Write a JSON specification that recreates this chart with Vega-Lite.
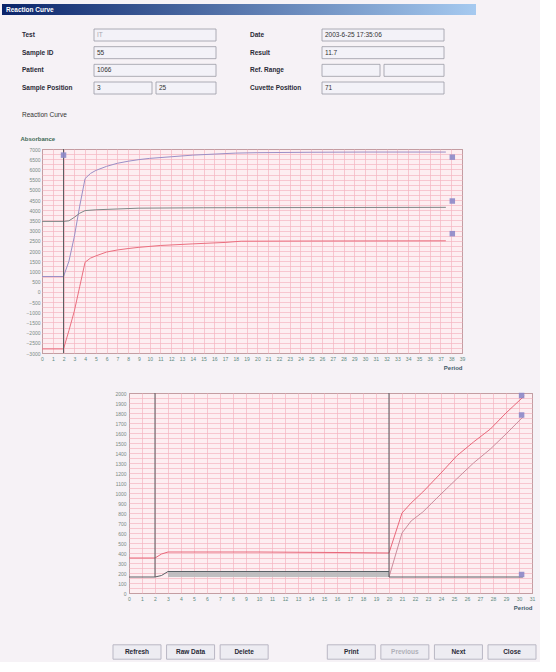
{
  "$schema": "https://vega.github.io/schema/vega-lite/v6.json",
  "background": "#f6f2f6",
  "padding": {"left": 2, "top": 4, "right": 0, "bottom": 0},
  "spacing": 0,
  "resolve": {"scale": {"color": "independent", "fill": "independent"}},
  "config": {
    "view": {"stroke": null},
    "font": "Liberation Sans",
    "axis": {"labelFont": "Liberation Sans", "titleFont": "Liberation Sans"}
  },
  "vconcat": [
    {
      "width": 474,
      "height": 11,
      "view": {"stroke": null, "fill": {"gradient": "linear", "x1": 0, "y1": 0, "x2": 1, "y2": 0, "stops": [{"offset": 0, "color": "#0a246a"}, {"offset": 1, "color": "#a6caf0"}]}},
      "data": {"values": [{"name": "Reaction Curve"}]},
      "mark": {"type": "text", "align": "left", "baseline": "middle", "color": "white", "fontSize": 6.5, "fontWeight": "bold"},
      "encoding": {
        "text": {"field": "name"},
        "x": {"field": "name", "type": "nominal", "scale": {"type": "point", "range": [4, 4], "padding": 0}, "axis": null}
      }
    },
    {
      "width": 474,
      "height": 119,
      "layer": [
        {
          "data": {"values": [
            {"side": "left", "row": 1, "label": "Test", "value": "IT", "split": false, "enabled": false},
            {"side": "left", "row": 2, "label": "Sample ID", "value": "55", "split": false, "enabled": true},
            {"side": "left", "row": 3, "label": "Patient", "value": "1066", "split": false, "enabled": true},
            {"side": "left", "row": 4, "label": "Sample Position", "value": "3", "value2": "25", "split": true, "enabled": true},
            {"side": "right", "row": 1, "label": "Date", "value": "2003-6-25 17:35:06", "split": false, "enabled": true},
            {"side": "right", "row": 2, "label": "Result", "value": "11.7", "split": false, "enabled": true},
            {"side": "right", "row": 3, "label": "Ref. Range", "value": "", "split": true, "enabled": true},
            {"side": "right", "row": 4, "label": "Cuvette Position", "value": "71", "split": false, "enabled": true}
          ]},
          "encoding": {
            "x": {"field": "side", "type": "nominal", "scale": {"type": "point", "domain": ["left", "right"], "range": [20, 248], "padding": 0}, "axis": null},
            "y": {"field": "row", "type": "ordinal", "scale": {"type": "point", "range": [20, 73], "padding": 0}, "axis": null}
          },
          "layer": [
            {"transform": [{"filter": "!datum.split"}], "mark": {"type": "rect", "xOffset": 72, "x2Offset": 194, "yOffset": -6, "y2Offset": 6, "fill": "#f3f2f8", "stroke": "#9a9aa4", "strokeWidth": 0.8}, "encoding": {"x2": {"field": "side"}, "y2": {"field": "row"}}},
            {"transform": [{"filter": "datum.split"}], "mark": {"type": "rect", "xOffset": 72, "x2Offset": 130, "yOffset": -6, "y2Offset": 6, "fill": "#f3f2f8", "stroke": "#9a9aa4", "strokeWidth": 0.8}, "encoding": {"x2": {"field": "side"}, "y2": {"field": "row"}}},
            {"transform": [{"filter": "datum.split"}], "mark": {"type": "rect", "xOffset": 134, "x2Offset": 194, "yOffset": -6, "y2Offset": 6, "fill": "#f3f2f8", "stroke": "#9a9aa4", "strokeWidth": 0.8}, "encoding": {"x2": {"field": "side"}, "y2": {"field": "row"}}},
            {"mark": {"type": "text", "align": "left", "fontSize": 6.5, "fontWeight": "bold", "color": "#2a2a36"}, "encoding": {"text": {"field": "label"}}},
            {"mark": {"type": "text", "align": "left", "dx": 75, "fontSize": 6.5}, "encoding": {"text": {"field": "value"}, "color": {"field": "enabled", "type": "nominal", "scale": {"domain": [true, false], "range": ["#333333", "#a8a8b0"]}, "legend": null}}},
            {"transform": [{"filter": "isValid(datum.value2)"}], "mark": {"type": "text", "align": "left", "dx": 137, "fontSize": 6.5, "color": "#333333"}, "encoding": {"text": {"field": "value2"}}}
          ]
        },
        {
          "data": {"values": [{"caption": "Reaction Curve"}]},
          "mark": {"type": "text", "align": "left", "fontSize": 6.5, "color": "#333333"},
          "encoding": {
            "text": {"field": "caption"},
            "x": {"field": "caption", "type": "nominal", "scale": {"type": "point", "range": [20, 20], "padding": 0}, "axis": null},
            "y": {"field": "caption", "type": "nominal", "scale": {"type": "point", "range": [100, 100], "padding": 0}, "axis": null}
          }
        }
      ],
      "resolve": {"scale": {"x": "independent", "y": "independent"}}
    },
    {
      "hconcat": [
        {"width": 40, "height": 1, "data": {"values": []}, "mark": "point"},
        {
          "width": 420,
          "height": 204,
          "view": {"fill": "#fdeef1", "stroke": "#56665c", "strokeWidth": 1},
          "layer": [
            {
              "data": {"values": [
                {"s": "A", "period": 0, "abs": 750}, {"s": "A", "period": 2, "abs": 750}, {"s": "A", "period": 2.5, "abs": 1500}, {"s": "A", "period": 3, "abs": 2700}, {"s": "A", "period": 3.5, "abs": 4200}, {"s": "A", "period": 4, "abs": 5550}, {"s": "A", "period": 4.5, "abs": 5800}, {"s": "A", "period": 5, "abs": 5950}, {"s": "A", "period": 6, "abs": 6150}, {"s": "A", "period": 7, "abs": 6300}, {"s": "A", "period": 8, "abs": 6400}, {"s": "A", "period": 9, "abs": 6480}, {"s": "A", "period": 10, "abs": 6540}, {"s": "A", "period": 12, "abs": 6620}, {"s": "A", "period": 14, "abs": 6700}, {"s": "A", "period": 16, "abs": 6750}, {"s": "A", "period": 18, "abs": 6800}, {"s": "A", "period": 20, "abs": 6820}, {"s": "A", "period": 25, "abs": 6840}, {"s": "A", "period": 30, "abs": 6850}, {"s": "A", "period": 37.5, "abs": 6850},
                {"s": "B", "period": 0, "abs": 3450}, {"s": "B", "period": 2, "abs": 3450}, {"s": "B", "period": 2.5, "abs": 3480}, {"s": "B", "period": 3, "abs": 3650}, {"s": "B", "period": 3.5, "abs": 3850}, {"s": "B", "period": 4, "abs": 3980}, {"s": "B", "period": 5, "abs": 4020}, {"s": "B", "period": 7, "abs": 4060}, {"s": "B", "period": 9, "abs": 4100}, {"s": "B", "period": 15, "abs": 4120}, {"s": "B", "period": 25, "abs": 4130}, {"s": "B", "period": 37.5, "abs": 4140},
                {"s": "C", "period": 0, "abs": -2800}, {"s": "C", "period": 2, "abs": -2800}, {"s": "C", "period": 2.5, "abs": -1900}, {"s": "C", "period": 3, "abs": -950}, {"s": "C", "period": 3.5, "abs": 250}, {"s": "C", "period": 4, "abs": 1450}, {"s": "C", "period": 4.5, "abs": 1650}, {"s": "C", "period": 5, "abs": 1760}, {"s": "C", "period": 6, "abs": 1950}, {"s": "C", "period": 7, "abs": 2050}, {"s": "C", "period": 8, "abs": 2120}, {"s": "C", "period": 9, "abs": 2180}, {"s": "C", "period": 11, "abs": 2270}, {"s": "C", "period": 14, "abs": 2350}, {"s": "C", "period": 17, "abs": 2420}, {"s": "C", "period": 18.5, "abs": 2480}, {"s": "C", "period": 25, "abs": 2490}, {"s": "C", "period": 37.5, "abs": 2500}
              ]},
              "mark": {"type": "line", "strokeWidth": 1},
              "encoding": {
                "x": {"field": "period", "type": "quantitative", "scale": {"domain": [0, 39], "nice": false, "zero": false},
                  "axis": {"values": [0,1,2,3,4,5,6,7,8,9,10,11,12,13,14,15,16,17,18,19,20,21,22,23,24,25,26,27,28,29,30,31,32,33,34,35,36,37,38,39], "grid": true, "gridColor": "#f3b5c0", "gridWidth": 0.7, "ticks": false, "domain": false, "labelFontSize": 5, "labelColor": "#5f8a7e", "labelPadding": 3, "labelOverlap": false, "labelFlush": false, "title": "Period", "titleFontSize": 6, "titleFontWeight": "bold", "titleColor": "#3e5a6a", "titleAnchor": "end", "titleAlign": "right", "titleX": 420, "titleY": 17, "titleBaseline": "bottom"}},
                "y": {"field": "abs", "type": "quantitative", "scale": {"domain": [-3000, 7000], "nice": false, "zero": false},
                  "axis": {"values": [-3000,-2750,-2500,-2250,-2000,-1750,-1500,-1250,-1000,-750,-500,-250,0,250,500,750,1000,1250,1500,1750,2000,2250,2500,2750,3000,3250,3500,3750,4000,4250,4500,4750,5000,5250,5500,5750,6000,6250,6500,6750,7000], "format": "d", "labelExpr": "datum.value % 500 === 0 ? datum.label : ''", "grid": true, "gridColor": "#f3b5c0", "gridWidth": 0.7, "ticks": false, "domain": false, "labelFontSize": 5, "labelColor": "#7a8a84", "labelPadding": 2, "labelOverlap": false, "labelFlush": false, "title": "Absorbance", "titleAngle": 0, "titleX": -22, "titleY": -8, "titleAlign": "left", "titleBaseline": "bottom", "titleFontSize": 6, "titleFontWeight": "bold", "titleColor": "#3f6a55"}},
                "color": {"field": "s", "type": "nominal", "scale": {"domain": ["A", "B", "C", "P", "Q", "R", "S"], "range": ["#9b8fc6", "#7f8787", "#ea6f7f", "#e8687a", "#c98d9c", "#5b6166", "#5b6166"]}, "legend": null}
              }
            },
            {
              "data": {"values": [{"period": 2}]},
              "mark": {"type": "rule", "color": "#555b5e", "strokeWidth": 1},
              "encoding": {
                "x": {"field": "period", "type": "quantitative", "scale": {"domain": [0, 39], "nice": false, "zero": false},
                  "axis": {"values": [0,1,2,3,4,5,6,7,8,9,10,11,12,13,14,15,16,17,18,19,20,21,22,23,24,25,26,27,28,29,30,31,32,33,34,35,36,37,38,39], "grid": true, "gridColor": "#f3b5c0", "gridWidth": 0.7, "ticks": false, "domain": false, "labelFontSize": 5, "labelColor": "#5f8a7e", "labelPadding": 3, "labelOverlap": false, "labelFlush": false, "title": "Period", "titleFontSize": 6, "titleFontWeight": "bold", "titleColor": "#3e5a6a", "titleAnchor": "end", "titleAlign": "right", "titleX": 420, "titleY": 17, "titleBaseline": "bottom"}}
              }
            },
            {
              "data": {"values": [{"period": 2, "abs": 6700}, {"period": 38.1, "abs": 6600}, {"period": 38.1, "abs": 4450}, {"period": 38.1, "abs": 2850}]},
              "mark": {"type": "point", "shape": "square", "filled": true, "size": 30, "color": "#8c88c8", "opacity": 0.9},
              "encoding": {
                "x": {"field": "period", "type": "quantitative", "scale": {"domain": [0, 39], "nice": false, "zero": false},
                  "axis": {"values": [0,1,2,3,4,5,6,7,8,9,10,11,12,13,14,15,16,17,18,19,20,21,22,23,24,25,26,27,28,29,30,31,32,33,34,35,36,37,38,39], "grid": true, "gridColor": "#f3b5c0", "gridWidth": 0.7, "ticks": false, "domain": false, "labelFontSize": 5, "labelColor": "#5f8a7e", "labelPadding": 3, "labelOverlap": false, "labelFlush": false, "title": "Period", "titleFontSize": 6, "titleFontWeight": "bold", "titleColor": "#3e5a6a", "titleAnchor": "end", "titleAlign": "right", "titleX": 420, "titleY": 17, "titleBaseline": "bottom"}},
                "y": {"field": "abs", "type": "quantitative", "scale": {"domain": [-3000, 7000], "nice": false, "zero": false},
                  "axis": {"values": [-3000,-2750,-2500,-2250,-2000,-1750,-1500,-1250,-1000,-750,-500,-250,0,250,500,750,1000,1250,1500,1750,2000,2250,2500,2750,3000,3250,3500,3750,4000,4250,4500,4750,5000,5250,5500,5750,6000,6250,6500,6750,7000], "format": "d", "labelExpr": "datum.value % 500 === 0 ? datum.label : ''", "grid": true, "gridColor": "#f3b5c0", "gridWidth": 0.7, "ticks": false, "domain": false, "labelFontSize": 5, "labelColor": "#7a8a84", "labelPadding": 2, "labelOverlap": false, "labelFlush": false, "title": "Absorbance", "titleAngle": 0, "titleX": -22, "titleY": -8, "titleAlign": "left", "titleBaseline": "bottom", "titleFontSize": 6, "titleFontWeight": "bold", "titleColor": "#3f6a55"}}
              }
            }
          ]
        }
      ],
      "spacing": 0,
      "bounds": "flush"
    },
    {"width": 1, "height": 19, "data": {"values": []}, "mark": "point"},
    {
      "hconcat": [
        {"width": 127, "height": 1, "data": {"values": []}, "mark": "point"},
        {
          "width": 403,
          "height": 200,
          "view": {"fill": "#fdeef1", "stroke": "#56665c", "strokeWidth": 1},
          "encoding": {
            "x": {"field": "period", "type": "quantitative", "scale": {"domain": [0, 31], "nice": false, "zero": false},
              "axis": {"values": [0,0.5,1,1.5,2,2.5,3,3.5,4,4.5,5,5.5,6,6.5,7,7.5,8,8.5,9,9.5,10,10.5,11,11.5,12,12.5,13,13.5,14,14.5,15,15.5,16,16.5,17,17.5,18,18.5,19,19.5,20,20.5,21,21.5,22,22.5,23,23.5,24,24.5,25,25.5,26,26.5,27,27.5,28,28.5,29,29.5,30,30.5,31], "format": "d", "labelExpr": "datum.value % 1 === 0 ? datum.label : ''", "grid": true, "gridColor": "#f3b5c0", "gridWidth": 0.7, "ticks": false, "domain": false, "labelFontSize": 5, "labelColor": "#5f8a7e", "labelPadding": 3, "labelOverlap": false, "labelFlush": false, "title": "Period", "titleFontSize": 6, "titleFontWeight": "bold", "titleColor": "#3e5a6a", "titleAnchor": "end", "titleAlign": "right", "titleX": 403, "titleY": 17, "titleBaseline": "bottom"}}
          },
          "layer": [
            {
              "data": {"values": [{"period": 3, "lo": 160, "hi": 215}, {"period": 20, "lo": 160, "hi": 215}]},
              "mark": {"type": "area", "color": "#b9b9bb", "opacity": 0.9},
              "encoding": {
                "y": {"field": "lo", "type": "quantitative", "scale": {"domain": [0, 2000], "nice": false, "zero": false},
                  "axis": {"values": [0,50,100,150,200,250,300,350,400,450,500,550,600,650,700,750,800,850,900,950,1000,1050,1100,1150,1200,1250,1300,1350,1400,1450,1500,1550,1600,1650,1700,1750,1800,1850,1900,1950,2000], "format": "d", "labelExpr": "datum.value % 100 === 0 ? datum.label : ''", "grid": true, "gridColor": "#f3b5c0", "gridWidth": 0.7, "ticks": false, "domain": false, "labelFontSize": 5, "labelColor": "#7a8a84", "labelPadding": 3, "labelOverlap": false, "labelFlush": false, "title": null}},
                "y2": {"field": "hi"}
              }
            },
            {
              "data": {"values": [
                {"s": "P", "period": 0, "abs": 350}, {"s": "P", "period": 2, "abs": 350}, {"s": "P", "period": 2.5, "abs": 390}, {"s": "P", "period": 3, "abs": 410}, {"s": "P", "period": 10, "abs": 410}, {"s": "P", "period": 16, "abs": 405}, {"s": "P", "period": 20, "abs": 400}, {"s": "P", "period": 20.4, "abs": 560}, {"s": "P", "period": 21, "abs": 800}, {"s": "P", "period": 21.7, "abs": 900}, {"s": "P", "period": 22.6, "abs": 1010}, {"s": "P", "period": 24, "abs": 1200}, {"s": "P", "period": 25.2, "abs": 1370}, {"s": "P", "period": 26.5, "abs": 1510}, {"s": "P", "period": 27.8, "abs": 1640}, {"s": "P", "period": 29, "abs": 1800}, {"s": "P", "period": 30.4, "abs": 1970},
                {"s": "Q", "period": 20, "abs": 160}, {"s": "Q", "period": 20.5, "abs": 380}, {"s": "Q", "period": 21, "abs": 600}, {"s": "Q", "period": 21.7, "abs": 720}, {"s": "Q", "period": 22.6, "abs": 810}, {"s": "Q", "period": 24, "abs": 990}, {"s": "Q", "period": 25.2, "abs": 1140}, {"s": "Q", "period": 26.5, "abs": 1300}, {"s": "Q", "period": 27.8, "abs": 1440}, {"s": "Q", "period": 29, "abs": 1590}, {"s": "Q", "period": 30.3, "abs": 1760},
                {"s": "R", "period": 0, "abs": 160}, {"s": "R", "period": 2, "abs": 160}, {"s": "R", "period": 2.5, "abs": 175}, {"s": "R", "period": 3, "abs": 215}, {"s": "R", "period": 20, "abs": 215},
                {"s": "S", "period": 20, "abs": 160}, {"s": "S", "period": 30.3, "abs": 160}
              ]},
              "mark": {"type": "line", "strokeWidth": 1},
              "encoding": {
                "y": {"field": "abs", "type": "quantitative", "scale": {"domain": [0, 2000], "nice": false, "zero": false},
                  "axis": {"values": [0,50,100,150,200,250,300,350,400,450,500,550,600,650,700,750,800,850,900,950,1000,1050,1100,1150,1200,1250,1300,1350,1400,1450,1500,1550,1600,1650,1700,1750,1800,1850,1900,1950,2000], "format": "d", "labelExpr": "datum.value % 100 === 0 ? datum.label : ''", "grid": true, "gridColor": "#f3b5c0", "gridWidth": 0.7, "ticks": false, "domain": false, "labelFontSize": 5, "labelColor": "#7a8a84", "labelPadding": 3, "labelOverlap": false, "labelFlush": false, "title": null}},
                "color": {"field": "s", "type": "nominal", "scale": {"domain": ["A", "B", "C", "P", "Q", "R", "S"], "range": ["#9b8fc6", "#7f8787", "#ea6f7f", "#e8687a", "#c98d9c", "#5b6166", "#5b6166"]}, "legend": null}
              }
            },
            {
              "data": {"values": [{"period": 2, "lo": 160, "hi": 2000}, {"period": 20, "lo": 160, "hi": 2000}]},
              "mark": {"type": "rule", "color": "#555b5e", "strokeWidth": 1},
              "encoding": {
                "y": {"field": "lo", "type": "quantitative", "scale": {"domain": [0, 2000], "nice": false, "zero": false},
                  "axis": {"values": [0,50,100,150,200,250,300,350,400,450,500,550,600,650,700,750,800,850,900,950,1000,1050,1100,1150,1200,1250,1300,1350,1400,1450,1500,1550,1600,1650,1700,1750,1800,1850,1900,1950,2000], "format": "d", "labelExpr": "datum.value % 100 === 0 ? datum.label : ''", "grid": true, "gridColor": "#f3b5c0", "gridWidth": 0.7, "ticks": false, "domain": false, "labelFontSize": 5, "labelColor": "#7a8a84", "labelPadding": 3, "labelOverlap": false, "labelFlush": false, "title": null}},
                "y2": {"field": "hi"}
              }
            },
            {
              "data": {"values": [{"period": 30.2, "abs": 1975}, {"period": 30.2, "abs": 1780}, {"period": 30.2, "abs": 185}]},
              "mark": {"type": "point", "shape": "square", "filled": true, "size": 30, "color": "#8c88c8", "opacity": 0.9},
              "encoding": {
                "y": {"field": "abs", "type": "quantitative", "scale": {"domain": [0, 2000], "nice": false, "zero": false},
                  "axis": {"values": [0,50,100,150,200,250,300,350,400,450,500,550,600,650,700,750,800,850,900,950,1000,1050,1100,1150,1200,1250,1300,1350,1400,1450,1500,1550,1600,1650,1700,1750,1800,1850,1900,1950,2000], "format": "d", "labelExpr": "datum.value % 100 === 0 ? datum.label : ''", "grid": true, "gridColor": "#f3b5c0", "gridWidth": 0.7, "ticks": false, "domain": false, "labelFontSize": 5, "labelColor": "#7a8a84", "labelPadding": 3, "labelOverlap": false, "labelFlush": false, "title": null}}
              }
            }
          ]
        }
      ],
      "spacing": 0,
      "bounds": "flush"
    },
    {"width": 1, "height": 31, "data": {"values": []}, "mark": "point"},
    {
      "hconcat": [
        {"width": 98, "height": 1, "data": {"values": []}, "mark": "point"},
        {
          "width": 440,
          "height": 20,
          "data": {"values": [
            {"b": "Refresh", "state": "enabled"}, {"b": "Raw Data", "state": "enabled"}, {"b": "Delete", "state": "enabled"},
            {"b": "Print", "state": "enabled"}, {"b": "Previous", "state": "disabled"}, {"b": "Next", "state": "enabled"}, {"b": "Close", "state": "enabled"}
          ]},
          "encoding": {
            "x": {"field": "b", "type": "nominal", "scale": {"type": "point", "domain": ["Refresh", "Raw Data", "Delete", " ", "Print", "Previous", "Next", "Close"], "range": [37, 412], "padding": 0}, "axis": null}
          },
          "layer": [
            {"mark": {"type": "point", "shape": "M-1,-0.3L1,-0.3L1,0.3L-1,0.3Z", "size": 2304, "filled": true, "fill": "#edecf2", "stroke": "#b9b7c4", "strokeWidth": 1, "opacity": 1}},
            {"mark": {"type": "text", "fontSize": 6.5, "fontWeight": "bold"},
             "encoding": {"text": {"field": "b"}, "fill": {"field": "state", "type": "nominal", "scale": {"domain": ["enabled", "disabled"], "range": ["#2a2a36", "#b0b0b8"]}, "legend": null}}}
          ]
        }
      ],
      "spacing": 0,
      "bounds": "flush"
    }
  ]
}
